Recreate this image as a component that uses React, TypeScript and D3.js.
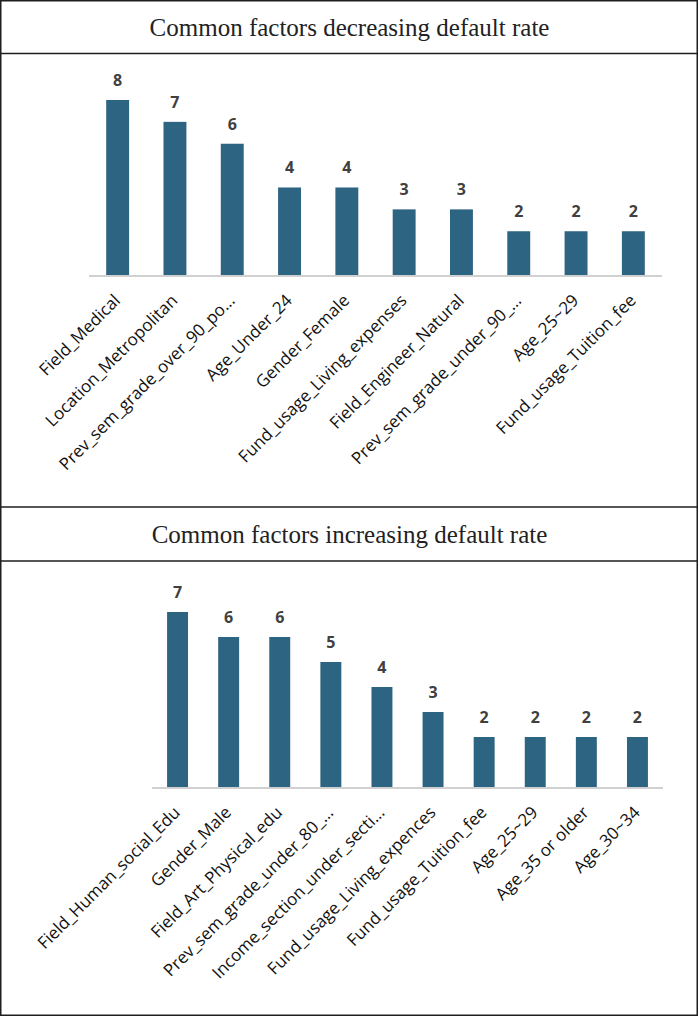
import React from "react";
import * as d3 from "d3";

const W = 699;
const H = 1016;

const titleDecreasing = "Common factors decreasing default rate";
const categoriesDecreasing = [
  "Field_Medical",
  "Location_Metropolitan",
  "Prev_sem_grade_over_90_po…",
  "Age_Under_24",
  "Gender_Female",
  "Fund_usage_Living_expenses",
  "Field_Engineer_Natural",
  "Prev_sem_grade_under_90_…",
  "Age_25~29",
  "Fund_usage_Tuition_fee",
];
const valuesDecreasing = [8, 7, 6, 4, 4, 3, 3, 2, 2, 2];

const titleIncreasing = "Common factors increasing default rate";
const categoriesIncreasing = [
  "Field_Human_social_Edu",
  "Gender_Male",
  "Field_Art_Physical_edu",
  "Prev_sem_grade_under_80_…",
  "Income_section_under_secti…",
  "Fund_usage_Living_expences",
  "Fund_usage_Tuition_fee",
  "Age_25~29",
  "Age_35 or older",
  "Age_30~34",
];
const valuesIncreasing = [7, 6, 6, 5, 4, 3, 2, 2, 2, 2];

const BAR_COLOR = "#2d6482";

type PanelProps = {
  title: string;
  categories: string[];
  values: number[];
  top: number;
  titleLine: number;
  x0: number;
  x1: number;
  baseY: number;
  yMax: number;
  plotTop: number;
  padding: number;
};

function Panel(p: PanelProps) {
  const x = d3
    .scaleBand<string>()
    .domain(p.categories)
    .range([p.x0, p.x1])
    .paddingInner(p.padding)
    .paddingOuter(p.padding / 2);
  const y = d3.scaleLinear().domain([0, p.yMax]).range([p.baseY, p.plotTop]);
  return (
    <g>
      <text
        x={W / 2}
        y={p.top + 36}
        textAnchor="middle"
        fontFamily="'Liberation Serif', 'Times New Roman', serif"
        fontSize={25}
        fill="#222"
      >
        {p.title}
      </text>
      <line x1={0} x2={698} y1={p.titleLine} y2={p.titleLine} stroke="#1e1e1e" strokeWidth={1.5} />
      {p.categories.map((c, i) => {
        const v = p.values[i];
        const bx = x(c)!;
        const cx = bx + x.bandwidth() / 2;
        return (
          <g key={c}>
            <rect x={bx} y={y(v)} width={x.bandwidth()} height={p.baseY - y(v)} fill={BAR_COLOR} />
            <text
              x={cx}
              y={y(v) - 14}
              textAnchor="middle"
              fontFamily="'Open Sans', sans-serif"
              fontWeight="bold"
              fontSize={16}
              fill="#404040"
            >
              {v}
            </text>
            <text
              transform={`translate(${cx - 1},${p.baseY + 22}) rotate(-45)`}
              textAnchor="end"
              dominantBaseline="central"
              fontFamily="'Open Sans', sans-serif"
              fontSize={17}
              fill="#111"
            >
              {c}
            </text>
          </g>
        );
      })}
      <line x1={p.x0} x2={p.x1} y1={p.baseY + 1} y2={p.baseY + 1} stroke="#d0d0d0" strokeWidth={2} />
    </g>
  );
}

export default function App() {
  return (
    <div style={{ position: "absolute", left: 0, top: 0 }}>
      <svg width={W} height={H} style={{ display: "block", background: "#fff" }}>
        <rect x={0} y={0} width={W} height={H} fill="#fff" />
        <Panel
          title={titleDecreasing}
          categories={categoriesDecreasing}
          values={valuesDecreasing}
          top={0}
          titleLine={53.5}
          x0={89}
          x1={662}
          baseY={275}
          yMax={9}
          plotTop={78.1}
          padding={0.6}
        />
        <Panel
          title={titleIncreasing}
          categories={categoriesIncreasing}
          values={valuesIncreasing}
          top={507}
          titleLine={561}
          x0={152}
          x1={663}
          baseY={787}
          yMax={8}
          plotTop={587}
          padding={0.59}
        />
        <line x1={0} x2={698} y1={507} y2={507} stroke="#1e1e1e" strokeWidth={1.5} />
        <rect x={0.75} y={0.75} width={696.5} height={1014.5} fill="none" stroke="#1e1e1e" strokeWidth={1.5} />
      </svg>
    </div>
  );
}
